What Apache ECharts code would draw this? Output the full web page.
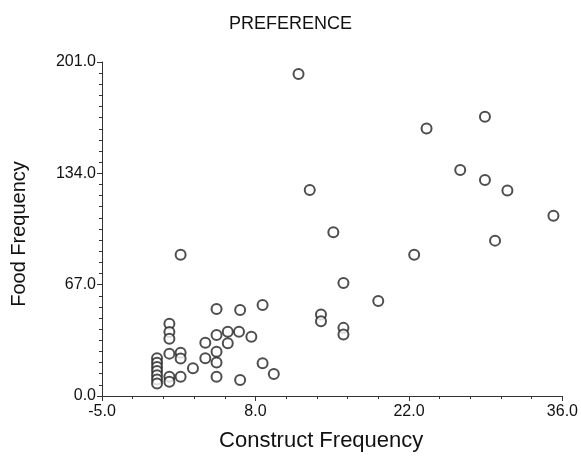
<!DOCTYPE html>
<html><head><meta charset="utf-8">
<script src="https://cdn.jsdelivr.net/npm/echarts@6/dist/echarts.min.js"></script>
<style>html,body{margin:0;padding:0;background:#fff}#c{width:581px;height:458px}</style>
</head><body><div id="c"></div>
<script>
const titleText = 'PREFERENCE';
const xName = 'Construct Frequency';
const yName = 'Food Frequency';
const xTickLabels = ['-5.0', '8.0', '22.0', '36.0'];
const yTickLabels = ['0.0', '67.0', '134.0', '201.0'];
const constructFreq = [
  12.5, 23.9, 29.1, 26.9, 29.1, 31.1, 35.2, 30.0, 13.5, 15.6, 22.8, 16.5, 19.6, 9.3, 14.5, 14.5, 16.5, 16.5, 2.0,
  5.2, 7.3, 1.0, 1.0, 1.0, 6.2, 7.2, 5.2, 8.3, 4.2, 6.2, 5.2, 1.0, 2.0, 2.0, 4.2, 5.2, 3.1, 5.2, 7.3, 9.3, 10.3,
  2.0, 1.0, 1.0, -0.1, -0.1, -0.1, -0.1, -0.1, -0.1, -0.1
];
const foodFreq = [
  193.8, 161, 168, 136, 130, 123.6, 108.5, 93.5, 124, 98.5, 85, 68, 57.2, 54.8, 49, 45, 41, 37, 85,
  52.4, 51.8, 43.5, 38.5, 34.5, 38.7, 38.7, 36.7, 35.7, 32.1, 31.7, 26.7, 25.5, 26, 22.5, 22.7, 20.1, 16.7, 11.6, 9.6, 19.7, 13.2,
  11.6, 11.6, 8.6, 22.7, 20, 17.5, 15, 12.5, 10, 7.5
];
const points = constructFreq.map((x, i) => [x, foodFreq[i]]);

const chart = echarts.init(document.getElementById('c'), null, {renderer: 'canvas'});
const axisColor = '#333';
const font = 'Liberation Sans, Arial, sans-serif';
chart.setOption({
  animation: false,
  backgroundColor: '#fff',
  title: {
    text: titleText, left: 'center', top: 10,
    textStyle: {fontFamily: font, fontSize: 18, fontWeight: 'normal', color: '#111'}
  },
  grid: {left: 102, right: 18, top: 62, bottom: 62},
  xAxis: {
    type: 'value', min: -5, max: 36, interval: 41 / 3,
    name: xName, nameLocation: 'middle', nameGap: 34,
    nameTextStyle: {fontFamily: font, fontSize: 22, color: '#111', padding: [0, 22, 0, 0]},
    axisLine: {onZero: false, lineStyle: {color: axisColor, width: 1}},
    axisTick: {show: true, length: 5, lineStyle: {color: axisColor}},
    minorTick: {show: true, splitNumber: 5, length: 3, lineStyle: {color: axisColor}},
    splitLine: {show: false},
    axisLabel: {fontFamily: font, fontSize: 16, color: '#111', margin: 8,
      formatter: (v, i) => xTickLabels[i] ?? ''}
  },
  yAxis: {
    type: 'value', min: 0, max: 201, interval: 67,
    name: yName, nameLocation: 'middle', nameGap: 73, nameRotate: 90,
    nameTextStyle: {fontFamily: font, fontSize: 20, color: '#111', padding: [0, 10, 0, 0]},
    axisLine: {onZero: false, lineStyle: {color: axisColor, width: 1}},
    axisTick: {show: true, length: 5, lineStyle: {color: axisColor}},
    minorTick: {show: true, splitNumber: 10, length: 3, lineStyle: {color: axisColor}},
    splitLine: {show: false},
    axisLabel: {fontFamily: font, fontSize: 16, color: '#111', margin: 6,
      formatter: (v, i) => yTickLabels[i] ?? ''}
  },
  series: [{
    type: 'scatter', data: points, symbol: 'emptyCircle', symbolSize: 10,
    itemStyle: {color: '#222', borderColor: '#222', borderWidth: 1},
    emphasis: {disabled: true}
  }]
});
</script></body></html>
